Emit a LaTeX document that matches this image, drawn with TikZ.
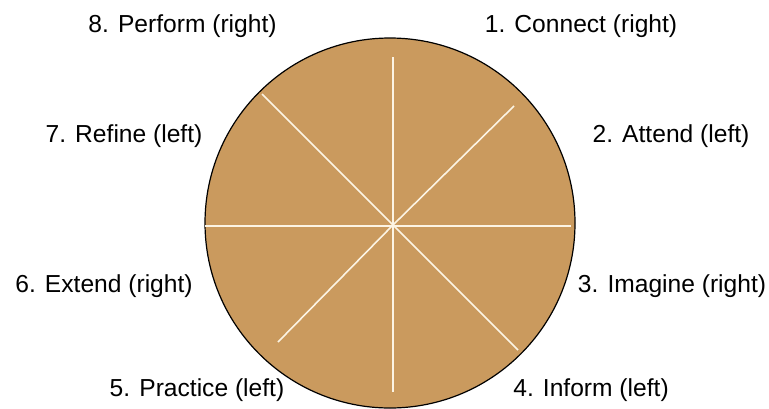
\documentclass[tikz,border=0pt]{standalone}
\usepackage{fontspec}
\setmainfont{Liberation Sans}
\definecolor{disctan}{RGB}{202,154,94}
\definecolor{spokecream}{RGB}{252,244,228}
\tikzset{
  steplabel/.style={anchor=base,inner sep=0pt,font=\fontsize{12.3}{14}\selectfont},
  spoke/.style={spokecream,line width=0.8pt}
}
\begin{document}
\begin{tikzpicture}[x=0.5pt,y=-0.5pt]
    \useasboundingbox (0,0) rectangle (769,408);
    \coordinate (C) at (393,225);
    \coordinate (N) at (393,57);
    \coordinate (S) at (393,392);
    \coordinate (W) at (205,226);
    \coordinate (E) at (571,226);
    \coordinate (NE) at (514,106);
    \coordinate (NW) at (262,94);
    \coordinate (SW) at (278,342);
    \coordinate (SE) at (518,350);

    \filldraw[fill=disctan,draw=black,line width=0.6pt] (390,223) circle (185);

    \draw[spoke] (N) -- (S);
    \draw[spoke] (W) -- (E);
    \draw[spoke] (C) -- (NE);
    \draw[spoke] (C) -- (NW);
    \draw[spoke] (C) -- (SW);
    \draw[spoke] (C) -- (SE);

    \node[steplabel] (connect) at (581,32) {1. Connect (right)};
    \node[steplabel] (attend) at (671,142) {2. Attend (left)};
    \node[steplabel] (imagine) at (672,292) {3. Imagine (right)};
    \node[steplabel] (inform) at (591,396) {4. Inform (left)};
    \node[steplabel] (practice) at (197,396) {5. Practice (left)};
    \node[steplabel] (extend) at (104,292) {6. Extend (right)};
    \node[steplabel] (refine) at (124,142) {7. Refine (left)};
    \node[steplabel] (perform) at (182.5,32) {8. Perform (right)};
\end{tikzpicture}
\end{document}
